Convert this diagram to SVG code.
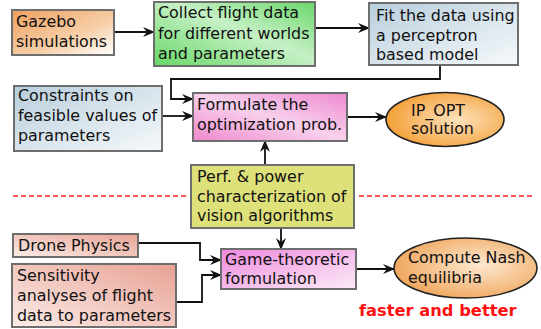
<svg xmlns="http://www.w3.org/2000/svg" width="541" height="329" viewBox="0 0 541 329">
<style>
.box{stroke:#6e6e6e;stroke-width:2}
.ell{stroke:#222;stroke-width:1.6}
text{font-family:"DejaVu Sans",Verdana,sans-serif;font-size:15.9px;fill:#111}
.red{font-weight:bold;fill:#ff1010;font-size:16.3px}
.c{fill:none;stroke:#111;stroke-width:1.8}
.dash{fill:none;stroke:#ff2020;stroke-width:1.6;stroke-dasharray:5,3}
</style>
<defs>
<marker id="ah" viewBox="0 0 12 10" refX="11" refY="5" markerWidth="12" markerHeight="10" markerUnits="userSpaceOnUse" orient="auto">
<path d="M0,0 L12,5 L0,10 L4,5 z" fill="#111"/>
</marker>
<linearGradient id="gOr" x1="0" y1="0" x2="1" y2="1"><stop offset="0" stop-color="#eea060"/><stop offset="0.6" stop-color="#f6cfa8"/><stop offset="1" stop-color="#ffffff"/></linearGradient>
<linearGradient id="gGr" x1="0" y1="1" x2="1" y2="0"><stop offset="0" stop-color="#66d866"/><stop offset="0.55" stop-color="#c6f0c6"/><stop offset="1" stop-color="#6ad86a"/></linearGradient>
<linearGradient id="gBl" x1="0" y1="0" x2="1" y2="1"><stop offset="0" stop-color="#b8cedc"/><stop offset="1" stop-color="#f6f9fb"/></linearGradient>
<linearGradient id="gPk" x1="0" y1="1" x2="1" y2="0"><stop offset="0" stop-color="#ee88cc"/><stop offset="0.5" stop-color="#f8d0ec"/><stop offset="1" stop-color="#ee8ad0"/></linearGradient>
<linearGradient id="gRs" x1="1" y1="0" x2="0" y2="1"><stop offset="0" stop-color="#e8a294"/><stop offset="1" stop-color="#fbece8"/></linearGradient>
<linearGradient id="gPk2" x1="0" y1="0" x2="1" y2="1"><stop offset="0" stop-color="#ee88dd"/><stop offset="1" stop-color="#fcecf8"/></linearGradient>
<radialGradient id="gE1" cx="0.6" cy="0.5" r="0.6"><stop offset="0" stop-color="#fde2bc"/><stop offset="1" stop-color="#f4a038"/></radialGradient>
<radialGradient id="gE2" cx="0.6" cy="0.45" r="0.6"><stop offset="0" stop-color="#fde8d0"/><stop offset="1" stop-color="#f0a860"/></radialGradient>
</defs>

<g id="connectors">
<path class="c" d="M114,32 L154,32" marker-end="url(#ah)"/>
<path class="c" d="M315,28 L369,28" marker-end="url(#ah)"/>
<path class="c" d="M440,65 L440,79 L171,79 L171,99 L193,99" marker-end="url(#ah)"/>
<path class="c" d="M162,116 L193,116" marker-end="url(#ah)"/>
<path class="c" d="M347,117 L386,117" marker-end="url(#ah)"/>
<path class="c" d="M265,165 L265,141" marker-end="url(#ah)"/>
<path class="c" d="M281,228 L281,249" marker-end="url(#ah)"/>
<path class="c" d="M138,243 L200,243 L200,260 L221,260" marker-end="url(#ah)"/>
<path class="c" d="M176,302 L202,302 L202,275 L221,275" marker-end="url(#ah)"/>
<path class="c" d="M356,269 L394,269" marker-end="url(#ah)"/>
<path class="dash" d="M13,196 L187,196"/>
<path class="dash" d="M359,196 L533,196"/>
</g>

<g id="gazebo"><rect class="box" x="12" y="10" width="102" height="45" fill="url(#gOr)"/>
<text x="16" y="27">Gazebo</text><text x="16" y="47">simulations</text></g>

<g id="collect"><rect class="box" x="154" y="2" width="161" height="64" fill="url(#gGr)"/>
<text x="158" y="18">Collect flight data</text><text x="158" y="39">for different worlds</text><text x="158" y="59">and parameters</text></g>

<g id="fit"><rect class="box" x="369" y="3" width="149" height="62" fill="url(#gBl)"/>
<text x="376" y="21">Fit the data using</text><text x="376" y="41">a perceptron</text><text x="376" y="60">based model</text></g>

<g id="constraints"><rect class="box" x="14" y="86" width="148" height="65" fill="url(#gBl)"/>
<text x="18" y="101">Constraints on</text><text x="18" y="121">feasible values of</text><text x="18" y="141">parameters</text></g>

<g id="formulate"><rect class="box" x="193" y="93" width="154" height="48" fill="url(#gPk)"/>
<text x="197" y="110">Formulate the</text><text x="197" y="130">optimization prob.</text></g>

<g id="ipopt"><ellipse class="ell" cx="445" cy="119.5" rx="59" ry="27" fill="url(#gE1)"/>
<text x="411" y="116">IP_OPT</text><text x="411" y="134">solution</text></g>

<g id="perf"><rect class="box" x="191" y="165" width="163" height="63" fill="#dee07a"/>
<text x="197" y="182">Perf. &amp; power</text><text x="197" y="202">characterization of</text><text x="197" y="221">vision algorithms</text></g>

<g id="drone"><rect class="box" x="13" y="234" width="125" height="23" fill="url(#gRs)"/>
<text x="18" y="251">Drone Physics</text></g>

<g id="sensitivity"><rect class="box" x="12" y="264" width="164" height="63" fill="url(#gRs)"/>
<text x="17" y="281">Sensitivity</text><text x="17" y="301">analyses of flight</text><text x="17" y="321">data to parameters</text></g>

<g id="game"><rect class="box" x="221" y="249" width="135" height="40" fill="url(#gPk2)"/>
<text x="225" y="265">Game-theoretic</text><text x="225" y="284">formulation</text></g>

<g id="nash"><ellipse class="ell" cx="465.5" cy="268" rx="71.5" ry="30" fill="url(#gE2)"/>
<text x="408" y="263">Compute Nash</text><text x="408" y="283">equilibria</text></g>

<text class="red" x="359" y="316">faster and better</text>
</svg>
